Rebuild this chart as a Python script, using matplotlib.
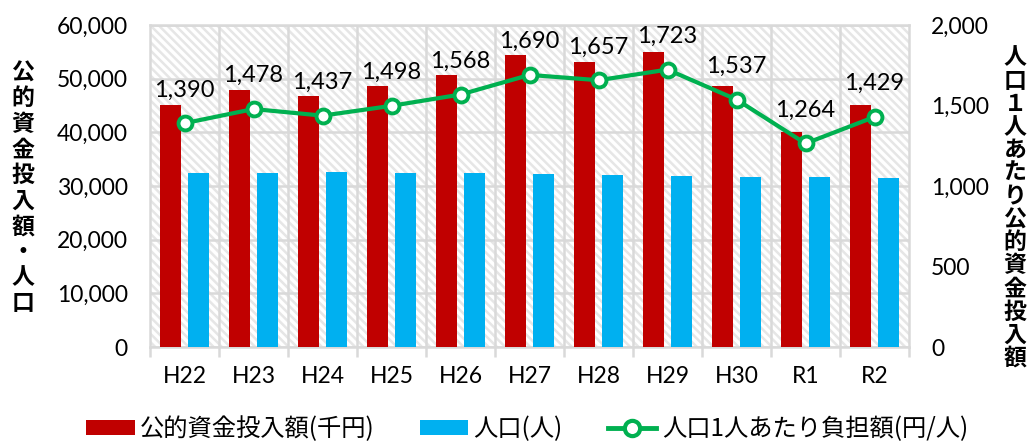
import numpy as np
import matplotlib
matplotlib.use('Agg')
import matplotlib.pyplot as plt
from matplotlib.patches import Rectangle, Patch
from matplotlib.lines import Line2D

plt.rcParams['font.family'] = ['Noto Sans CJK JP', 'DejaVu Sans']
plt.rcParams['hatch.linewidth'] = 1.8

# data
years = ['H22', 'H23', 'H24', 'H25', 'H26', 'H27', 'H28', 'H29', 'H30', 'R1', 'R2']
investment = [45150, 47830, 46780, 48570, 50770, 54470, 53110, 54900, 48690, 40040, 45010]   # 千円
population = [32480, 32360, 32550, 32420, 32380, 32230, 32050, 31860, 31680, 31680, 31500]  # 人
per_capita = [1390, 1478, 1437, 1498, 1568, 1690, 1657, 1723, 1537, 1264, 1429]            # 円/人

left_label = '公的資金投入額・人口'
right_label = '人口１人あたり公的資金投入額'

RED = '#C00000'
BLUE = '#00B0F0'
GREEN = '#00B050'
GRID = '#D9D9D9'
HATCH = '#E6E6E6'
NUM_FONT = ['Lato', 'DejaVu Sans']

fig = plt.figure(figsize=(10.27, 4.44), dpi=100)
ax = fig.add_axes([150/1027, 1 - 347/444, 759/1027, 322/444])
ax2 = ax.twinx()

x = np.arange(len(years))
w = 0.30
ax.add_patch(Rectangle((0, 0), 1, 1, transform=ax.transAxes, facecolor='white',
                       edgecolor=HATCH, linewidth=0, hatch='\\\\\\\\', zorder=0))
ax.bar(x - 0.2, investment, width=w, color=RED, zorder=3)
ax.bar(x + 0.2, population, width=w, color=BLUE, zorder=3)

ax.set_xlim(-0.5, len(years) - 0.5)
ax.set_ylim(0, 60000)
ax.set_yticks(np.arange(0, 60001, 10000))
ax.set_yticklabels([f'{v:,}' for v in range(0, 60001, 10000)], family=NUM_FONT,
                   fontsize=16.5, color='black')
ax.yaxis.grid(True, color=GRID, linewidth=1.8, zorder=1)
ax.set_axisbelow(True)
for b in np.arange(0.5, len(years) - 1, 1):
    ax.axvline(b, color=GRID, linewidth=1.8, zorder=1)

ax.set_xticks(x)
ax.set_xticklabels(years, family=NUM_FONT, fontsize=16.5, color='black')
ax.set_xticks(np.arange(-0.5, len(years), 1), minor=True)
ax.tick_params(axis='x', which='major', length=0, pad=14)
ax.tick_params(axis='x', which='minor', length=7, width=1.8, color=GRID)
ax.tick_params(axis='y', length=0, pad=16)
for s in ax.spines.values():
    s.set_color(GRID)
    s.set_linewidth(1.8)

ax2.plot(x, per_capita, color=GREEN, linewidth=3, marker='o', markersize=10,
         markerfacecolor='white', markeredgecolor=GREEN, markeredgewidth=2.8, zorder=5)
for xi, v in zip(x, per_capita):
    ax2.annotate(f'{v:,}', (xi, v), xytext=(0, 24), textcoords='offset points',
                 ha='center', va='center', fontsize=17, family=NUM_FONT, color='black')
ax2.set_ylim(0, 2000)
ax2.set_yticks(np.arange(0, 2001, 500))
ax2.set_yticklabels([f'{v:,}' for v in range(0, 2001, 500)], family=NUM_FONT,
                    fontsize=16.5, color='black')
ax2.tick_params(axis='y', length=0, pad=16)
for s in ax2.spines.values():
    s.set_visible(False)
ax.set_zorder(1)
ax2.set_zorder(2)
ax2.patch.set_visible(False)

# vertical axis titles, stacked one character per line
for i, ch in enumerate(left_label):
    fig.text(23/1027, 1 - (73 + i * 25.6)/444, ch, ha='center', va='center',
             fontsize=16.5, fontweight='bold')
for i, ch in enumerate(right_label):
    fig.text(1015/1027, 1 - (58 + i * 23.1)/444, ch, ha='center', va='center',
             fontsize=16.5, fontweight='bold')

handles = [Patch(facecolor=RED), Patch(facecolor=BLUE),
           Line2D([], [], color=GREEN, linewidth=3.5, marker='o', markersize=11,
                  markerfacecolor='white', markeredgewidth=3)]
labels = ['公的資金投入額(千円)', '人口(人)', '人口1人あたり負担額(円/人)']
fig.legend(handles, labels, loc='center', bbox_to_anchor=(527/1027, 1 - 429/444), ncol=3,
           frameon=False, fontsize=17.5, handlelength=2.0, handleheight=0.55,
           handletextpad=0.22, columnspacing=1.85, borderpad=0)

fig.savefig('out.png', dpi=100)
